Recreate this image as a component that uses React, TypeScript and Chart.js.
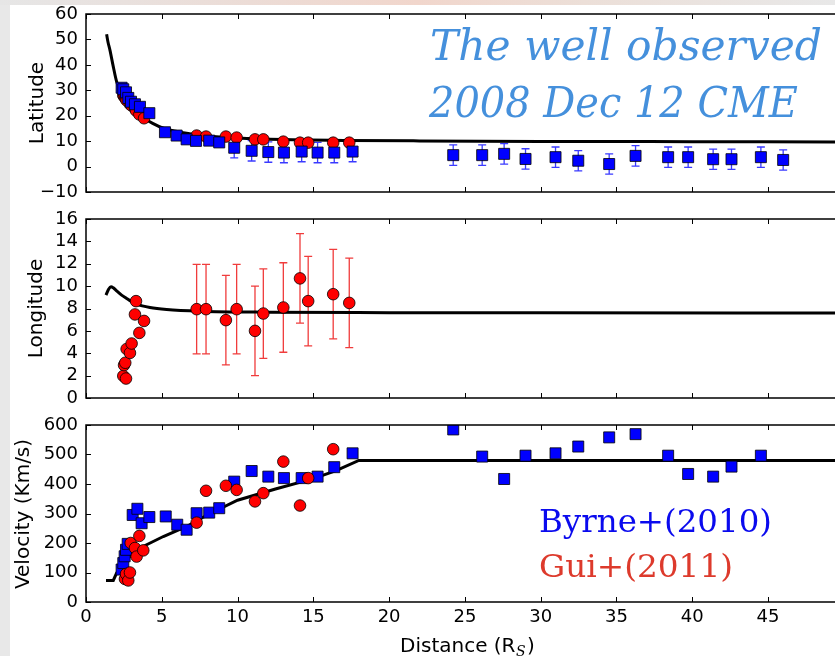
import React, { useEffect, useRef } from "react";
import { Chart, registerables } from "chart.js";

Chart.register(...registerables);

// ---------- data ----------
const distTicks = [0, 5, 10, 15, 20, 25, 30, 35, 40, 45];
const latTicks = [-10, 0, 10, 20, 30, 40, 50, 60];
const lonTicks = [0, 2, 4, 6, 8, 10, 12, 14, 16];
const velTicks = [0, 100, 200, 300, 400, 500, 600];
const X_MAX = 49.42;

// model curves
const modelLatDist = [1.36, 1.45, 1.58, 1.8, 2.02, 2.35, 2.9, 3.4, 3.78, 4.4, 5.1, 6.0, 6.64, 8.0, 10, 13, 17, 22, 30, 40, 49.5];
const modelLat = [52, 49, 45.8, 39.3, 33.4, 28.8, 23.5, 20.8, 19.2, 17.0, 15.1, 13.8, 13.1, 12.0, 11.2, 10.6, 10.3, 10.1, 9.9, 9.8, 9.7];

const modelLonDist = [1.32, 1.5, 1.65, 1.8, 2.02, 2.35, 2.68, 3.0, 3.34, 4.22, 5.32, 7.52, 11.9, 20, 30, 49.5];
const modelLon = [9.2, 9.75, 9.95, 9.85, 9.58, 9.2, 8.9, 8.62, 8.39, 8.09, 7.91, 7.76, 7.67, 7.63, 7.61, 7.6];

const modelVelDist = [1.32, 1.8, 2.02, 2.68, 3.34, 4.0, 5.1, 6.64, 8.0, 10, 12.5, 15, 16.5, 18, 49.5];
const modelVel = [73, 73, 98, 143, 177, 194, 222, 256, 295, 345, 383, 418, 445, 480, 480];

// Byrne+(2010)
const byrneLatDist = [2.35, 2.46, 2.64, 2.79, 2.97, 3.23, 3.56, 4.18, 5.21, 5.98, 6.64, 7.26, 8.13, 8.79, 9.78, 10.93, 12.03, 13.06, 14.23, 15.28, 16.38, 17.59, 24.23, 26.14, 27.59, 29.0, 30.98, 32.48, 34.52, 36.26, 38.41, 39.73, 41.38, 42.59, 44.53, 46.0];
const byrneLat = [31, 30.4, 29.2, 27, 25.5, 24.5, 23.5, 21, 13.5, 12.2, 10.7, 10.1, 10.2, 9.5, 7.4, 6.2, 5.7, 5.5, 5.9, 5.5, 5.5, 5.9, 4.5, 4.5, 5.0, 3.0, 3.7, 2.3, 1.0, 4.2, 3.7, 3.7, 2.9, 2.9, 3.7, 2.6];
const byrneLatErr = [0, 0, 0, 0, 0, 0, 0, 0, 0, 0, 0, 0, 0, 0, 4, 4, 4, 4, 4, 4, 4, 4, 4, 4, 4, 4, 4, 4, 4, 4, 4, 4, 4, 4, 4, 4];

const byrneVelDist = [2.35, 2.46, 2.55, 2.64, 2.75, 3.08, 3.39, 3.67, 4.18, 5.26, 6.02, 6.64, 7.30, 8.13, 8.79, 9.78, 10.93, 12.03, 13.06, 14.23, 15.28, 16.38, 17.59, 24.23, 26.14, 27.59, 29.0, 30.98, 32.48, 34.52, 36.26, 38.41, 39.73, 41.38, 42.59, 44.53];
const byrneVel = [110, 132, 155, 177, 197, 295, 316, 267, 288, 290, 262, 245, 301, 303, 318, 408, 444, 425, 420, 420, 425, 457, 504, 585, 493, 417, 496, 504, 527, 558, 569, 496, 434, 425, 459, 496];

// Gui+(2011)
const guiDist = [2.46, 2.51, 2.59, 2.64, 2.68, 2.90, 3.01, 3.23, 3.30, 3.52, 3.83, 7.30, 7.92, 9.23, 9.94, 11.15, 11.70, 13.02, 14.12, 14.66, 16.31, 17.37];
const guiLat = [28, 27.6, 27, 26.5, 26, 24.5, 24, 22.9, 22, 20.5, 19.0, 12.2, 11.8, 11.8, 11.4, 10.7, 10.7, 9.8, 9.4, 9.4, 9.4, 9.4];
const guiLon = [1.97, 2.94, 3.15, 1.74, 4.38, 4.03, 4.87, 7.47, 8.66, 5.82, 6.89, 7.94, 7.94, 6.96, 7.94, 6.0, 7.55, 8.09, 10.69, 8.66, 9.28, 8.50];
const guiLonErr = [0, 0, 0, 0, 0, 0, 0, 0, 0, 0, 0, 4, 4, 4, 4, 4, 4, 4, 4, 4, 4, 4];

const guiVelDist = [2.57, 2.64, 2.79, 2.90, 2.95, 3.23, 3.34, 3.52, 3.78, 7.30, 7.92, 9.23, 9.94, 11.15, 11.70, 13.02, 14.12, 14.66, 16.31];
const guiVel = [78, 95, 73, 100, 200, 183, 154, 224, 175, 269, 377, 394, 380, 341, 369, 476, 327, 420, 518];

// ---------- helpers ----------
const pts = (xs: number[], ys: number[]) => xs.map((x, i) => ({ x, y: ys[i] }));
const TICK_FONT = { family: "DejaVu Sans", size: 18 };

function zeroPad(s: any) {
  s.paddingTop = 0;
  s.paddingBottom = 0;
  s.paddingLeft = 0;
  s.paddingRight = 0;
}

function xScale(showLabels: boolean) {
  return {
    type: "linear",
    min: 0,
    max: X_MAX,
    afterBuildTicks: (s: any) => {
      s.ticks = distTicks.map((v) => ({ value: v }));
    },
    afterFit: (s: any) => {
      s.height = showLabels ? 54 : 0;
      zeroPad(s);
    },
    grid: { display: false, drawTicks: false },
    border: { display: false },
    ticks: {
      display: showLabels,
      color: "#000",
      font: TICK_FONT,
      padding: 5,
      maxRotation: 0,
      autoSkip: false,
    },
  };
}

function yScale(min: number, max: number, ticks: number[]) {
  return {
    type: "linear",
    min,
    max,
    afterBuildTicks: (s: any) => {
      s.ticks = ticks.map((v) => ({ value: v }));
    },
    afterFit: (s: any) => {
      s.width = 86;
      zeroPad(s);
    },
    grid: { display: false, drawTicks: false },
    border: { display: false },
    ticks: {
      color: "#000",
      font: TICK_FONT,
      padding: 8,
      autoSkip: false,
      callback: (v: any) => String(v).replace("-", "\u2212"),
    },
  };
}

function makeFrame(yTicks: number[]) {
  return {
    id: "frame",
    afterDatasetsDraw(chart: any) {
      const { ctx, chartArea: a, scales } = chart;
      ctx.save();
      ctx.strokeStyle = "#000";
      ctx.lineWidth = 1.5;
      ctx.beginPath();
      ctx.moveTo(a.right + 3, a.top);
      ctx.lineTo(a.left, a.top);
      ctx.lineTo(a.left, a.bottom);
      ctx.lineTo(a.right + 3, a.bottom);
      ctx.stroke();
      ctx.lineWidth = 1;
      ctx.beginPath();
      distTicks.forEach((v) => {
        const px = Math.round(scales.x.getPixelForValue(v)) + 0.5;
        ctx.moveTo(px, a.top);
        ctx.lineTo(px, a.top + 5);
        ctx.moveTo(px, a.bottom);
        ctx.lineTo(px, a.bottom - 5);
      });
      yTicks.forEach((v) => {
        const py = Math.round(scales.y.getPixelForValue(v)) + 0.5;
        ctx.moveTo(a.left, py);
        ctx.lineTo(a.left + 5, py);
      });
      ctx.stroke();
      ctx.restore();
    },
  };
}

const errorBars = {
  id: "errbars",
  beforeDatasetsDraw(chart: any) {
    const { ctx, scales } = chart;
    chart.data.datasets.forEach((ds: any, di: number) => {
      if (!ds.errors) return;
      const meta = chart.getDatasetMeta(di);
      ctx.save();
      ctx.strokeStyle = ds.errorColor;
      ctx.lineWidth = 1.3;
      meta.data.forEach((el: any, i: number) => {
        const e = ds.errors[i];
        if (!e) return;
        const v = ds.data[i].y;
        const x = el.x;
        const y1 = scales.y.getPixelForValue(v + e);
        const y2 = scales.y.getPixelForValue(v - e);
        ctx.beginPath();
        ctx.moveTo(x, y1);
        ctx.lineTo(x, y2);
        ctx.moveTo(x - 4, y1);
        ctx.lineTo(x + 4, y1);
        ctx.moveTo(x - 4, y2);
        ctx.lineTo(x + 4, y2);
        ctx.stroke();
      });
      ctx.restore();
    });
  },
};

function fitText(ctx: any, text: string, x: number, y: number, font: string, color: string, width?: number) {
  ctx.save();
  ctx.font = font;
  ctx.fillStyle = color;
  ctx.textAlign = "left";
  ctx.textBaseline = "alphabetic";
  const w = ctx.measureText(text).width;
  ctx.translate(x, y);
  if (width) ctx.scale(width / w, 1);
  ctx.fillText(text, 0, 0);
  ctx.restore();
}

function vText(ctx: any, text: string, bx: number, cy: number) {
  ctx.save();
  ctx.translate(bx, cy);
  ctx.rotate(-Math.PI / 2);
  ctx.font = "20px 'DejaVu Sans'";
  ctx.fillStyle = "#000";
  ctx.textAlign = "center";
  ctx.textBaseline = "alphabetic";
  ctx.fillText(text, 0, 0);
  ctx.restore();
}

const lineDs = (xs: number[], ys: number[], smooth: boolean) => ({
  data: pts(xs, ys),
  showLine: true,
  borderColor: "#000",
  borderWidth: 3,
  pointRadius: 0,
  cubicInterpolationMode: smooth ? "monotone" : "default",
  tension: 0,
  clip: 0,
});

const squareDs = (xs: number[], ys: number[], order: number, errors?: number[]) => ({
  data: pts(xs, ys),
  pointStyle: "rect",
  pointRadius: 7.8,
  backgroundColor: "#0000ff",
  borderColor: "#000",
  borderWidth: 0.8,
  order,
  clip: 0,
  errors,
  errorColor: "#3a3aff",
});

const circleDs = (xs: number[], ys: number[], order: number, errors?: number[]) => ({
  data: pts(xs, ys),
  pointStyle: "circle",
  pointRadius: 5.8,
  backgroundColor: "#ff0000",
  borderColor: "#000",
  borderWidth: 0.8,
  order,
  clip: 0,
  errors,
  errorColor: "#f03c3c",
});

function baseOptions(padTop: number, padBottom: number, x: any, y: any) {
  return {
    responsive: false,
    maintainAspectRatio: false,
    animation: false,
    events: [],
    layout: { autoPadding: false, padding: { top: padTop, bottom: padBottom, left: 0, right: 0 } },
    plugins: { legend: { display: false }, tooltip: { enabled: false } },
    scales: { x, y },
  };
}

export default function App() {
  const c1 = useRef<HTMLCanvasElement>(null);
  const c2 = useRef<HTMLCanvasElement>(null);
  const c3 = useRef<HTMLCanvasElement>(null);

  useEffect(() => {
    const charts: Chart[] = [];

    charts.push(
      new Chart(c1.current as HTMLCanvasElement, {
        type: "scatter",
        data: {
          datasets: [
            { ...lineDs(modelLatDist, modelLat, true), order: 3 },
            circleDs(guiDist, guiLat, 2),
            squareDs(byrneLatDist, byrneLat, 1, byrneLatErr),
          ] as any,
        },
        options: baseOptions(14, 13, xScale(false), yScale(-10, 60, latTicks)) as any,
        plugins: [
          errorBars,
          makeFrame(latTicks),
          {
            id: "notes1",
            afterDraw(chart: any) {
              const ctx = chart.ctx;
              vText(ctx, "Latitude", 43, 103);
              fitText(ctx, "The well observed", 430, 60, "italic 42px 'DejaVu Serif'", "#4590dc", 392);
              fitText(ctx, "2008 Dec 12 CME", 429, 117, "italic 42px 'DejaVu Serif'", "#4590dc", 369);
            },
          },
        ],
      })
    );

    charts.push(
      new Chart(c2.current as HTMLCanvasElement, {
        type: "scatter",
        data: {
          datasets: [
            { ...lineDs(modelLonDist, modelLon, true), order: 2 },
            circleDs(guiDist, guiLon, 1, guiLonErr),
          ] as any,
        },
        options: baseOptions(14, 12, xScale(false), yScale(0, 16, lonTicks)) as any,
        plugins: [
          errorBars,
          makeFrame(lonTicks),
          {
            id: "notes2",
            afterDraw(chart: any) {
              vText(chart.ctx, "Longitude", 42, 103.5);
            },
          },
        ],
      })
    );

    charts.push(
      new Chart(c3.current as HTMLCanvasElement, {
        type: "scatter",
        data: {
          datasets: [
            { ...lineDs(modelVelDist, modelVel, false), order: 3 },
            squareDs(byrneVelDist, byrneVel, 2),
            circleDs(guiVelDist, guiVel, 1),
          ] as any,
        },
        options: baseOptions(15, 0, xScale(true), yScale(0, 600, velTicks)) as any,
        plugins: [
          errorBars,
          makeFrame(velTicks),
          {
            id: "notes3",
            afterDraw(chart: any) {
              const ctx = chart.ctx;
              vText(ctx, "Velocity (Km/s)", 29, 104);
              fitText(ctx, "Byrne+(2010)", 539, 122, "32px 'DejaVu Serif'", "#0a0aee", 233);
              fitText(ctx, "Gui+(2011)", 539, 167, "32px 'DejaVu Serif'", "#dd3a2c", 194);
              // x-axis title with subscript
              ctx.save();
              ctx.fillStyle = "#000";
              ctx.textBaseline = "alphabetic";
              ctx.textAlign = "left";
              ctx.font = "20px 'DejaVu Sans'";
              const base = "Distance (R";
              ctx.fillText(base, 400, 241.5);
              let xx = 400 + ctx.measureText(base).width;
              ctx.font = "italic 14px 'DejaVu Serif'";
              ctx.fillText("S", xx + 0.5, 245.5);
              xx += ctx.measureText("S").width + 2;
              ctx.font = "20px 'DejaVu Sans'";
              ctx.fillText(")", xx, 241.5);
              ctx.restore();
            },
          },
        ],
      })
    );

    return () => charts.forEach((c) => c.destroy());
  }, []);

  return (
    <div
      style={{
        position: "fixed",
        left: 0,
        top: 0,
        width: 835,
        height: 656,
        background: "#e8e8e8",
        overflow: "hidden",
      }}
    >
      <div
        style={{
          position: "absolute",
          left: 0,
          top: 0,
          width: 835,
          height: 5,
          background:
            "linear-gradient(to right, #e6e6e6 0%, #ecdcd6 30%, #f1d6cc 50%, #ecdfd8 70%, #e8e8e8 100%)",
        }}
      />
      <div style={{ position: "absolute", left: 10, top: 5, width: 825, height: 651, background: "#fff" }} />
      <canvas ref={c1} width={835} height={205} style={{ position: "absolute", left: 0, top: 0 }} />
      <canvas ref={c2} width={835} height={205} style={{ position: "absolute", left: 0, top: 205 }} />
      <canvas ref={c3} width={835} height={246} style={{ position: "absolute", left: 0, top: 410 }} />
    </div>
  );
}
